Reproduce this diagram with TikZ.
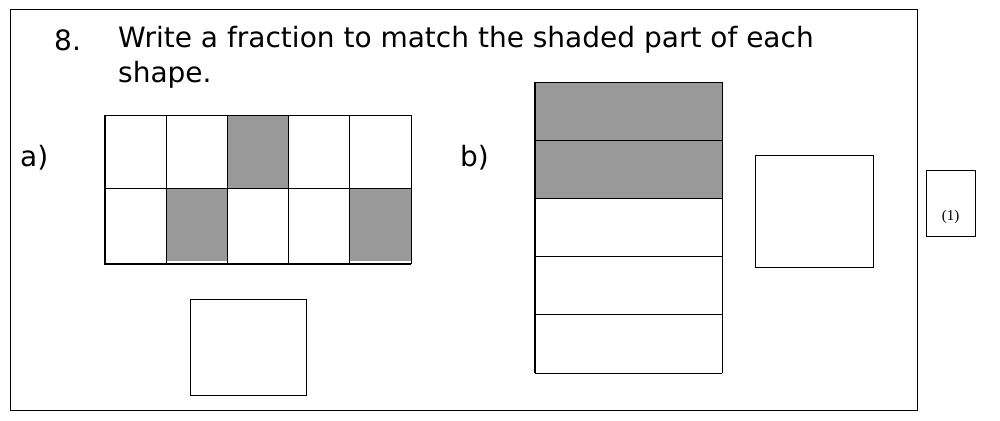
\documentclass[tikz,border=0pt]{standalone}
\usepackage{fontspec}
\setmainfont{DejaVu Sans}
\newfontfamily\timesf{Liberation Serif}
\definecolor{cellgray}{HTML}{999999}
\begin{document}
\begin{tikzpicture}[x=1pt,y=-1pt,
  cell/.style={draw=black,line width=0.8pt},
  ansbox/.style={draw=black,line width=1pt},
  lbl/.style={font=\fontsize{28}{34}\selectfont,inner sep=0pt,anchor=west}]
\useasboundingbox (0,0) rectangle (1000,420);
\draw[line width=1pt] (10,10) rectangle (917,410);
\draw[line width=1pt] (926,170) rectangle (975,236);
\node[font=\fontsize{15}{18}\selectfont\timesf] (one) at (950.5,217) {(1)};
\node[lbl] (num) at (54,40) {8.};
\node[lbl] (q1) at (118,40) {Write a fraction to match the shaded part of each};
\node[lbl] (q2) at (118,75) {shape.};
\node[lbl] (la) at (20,158) {a)};
\node[lbl] (lb) at (460,158) {b)};
% grid a
\foreach \c/\r in {3/0,2/1,5/1}
  \fill[cellgray] ({105+61.2*(\c-1)},{115+73*\r}) rectangle ++(61.2,73);
\foreach \i in {0,...,5} \draw[cell] ({105+61.2*\i},115) -- ({105+61.2*\i},264);
\foreach \y in {115,188,264} \draw[cell] (105,\y) -- (411,\y);
\draw[line width=2pt] (105,115) -- (105,264) -- (411,264);
\draw[ansbox] (190,299) rectangle (306,395);
% grid b
\fill[cellgray] (535,82) rectangle (722,199);
\foreach \y in {82,140.2,198.4,256.6,314.8,373} \draw[cell] (535,\y) -- (722,\y);
\draw[cell] (722,82) -- (722,373);
\draw[line width=2pt] (535,82) -- (535,373);
\draw[ansbox] (755,155) rectangle (873,267);
\end{tikzpicture}
\end{document}
